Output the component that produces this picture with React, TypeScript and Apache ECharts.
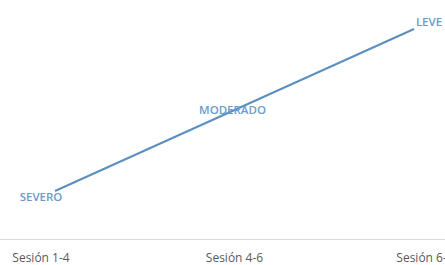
import React, { useEffect, useRef } from "react";
import * as echarts from "echarts";

const categories = ["Sesión 1-4", "Sesión 4-6", "Sesión 6-8"];
const values = [1, 2, 3];
const levelLabels = ["SEVERO", "MODERADO", "LEVE"];

export default function App() {
  const ref = useRef<HTMLDivElement>(null);
  useEffect(() => {
    if (!ref.current) return;
    const chart = echarts.init(ref.current, undefined, { renderer: "svg" });
    const offsets: [number, number][] = [
      [-14, 5],
      [-2, -1],
      [15, -8],
    ];
    const labelPads = [
      [0, 28, 0, 0],
      [0, 0, 0, 0],
      [0, 0, 0, 22],
    ];
    chart.setOption({
      animation: false,
      backgroundColor: "#ffffff",
      grid: { left: 55, right: 31, top: 29, bottom: 26, containLabel: false, outerBoundsMode: "none" },
      xAxis: {
        type: "category",
        data: categories,
        boundaryGap: false,
        axisLine: { show: false },
        axisTick: { show: false },
        axisLabel: {
          margin: 12,
          interval: 0,
          hideOverlap: false,
          formatter: (v: string, i: number) => `{c${i}|${v}}`,
          rich: Object.fromEntries(
            labelPads.map((p, i) => [
              `c${i}`,
              {
                fontFamily: "Open Sans",
                fontSize: 12,
                color: "#595959",
                padding: p,
              },
            ])
          ),
        },
      },
      yAxis: {
        type: "value",
        min: 1 - 48 / 81,
        max: 3,
        show: false,
        splitLine: { show: false },
      },
      graphic: [
        {
          type: "line",
          shape: { x1: 0, y1: 239.5, x2: 445, y2: 239.5 },
          style: { stroke: "#d9d9d9", lineWidth: 1 },
          silent: true,
        },
      ],
      series: [
        {
          type: "line",
          data: values.map((v, i) => ({
            value: v,
            label: {
              show: true,
              position: "inside",
              offset: offsets[i],
              formatter: levelLabels[i],
            },
          })),
          showSymbol: true,
          symbol: "circle",
          symbolSize: 1,
          itemStyle: { color: "rgba(0,0,0,0)", borderWidth: 0 },
          lineStyle: { color: "#5b8fbf", width: 2 },
          label: {
            show: true,
            fontFamily: "Open Sans",
            fontSize: 11.5,
            fontWeight: 600,
            color: "#6a9bcb",
          },
        },
      ],
    });
    return () => chart.dispose();
  }, []);
  return <div ref={ref} style={{ width: 445, height: 265, position: "fixed", left: 0, top: 0 }} />;
}
